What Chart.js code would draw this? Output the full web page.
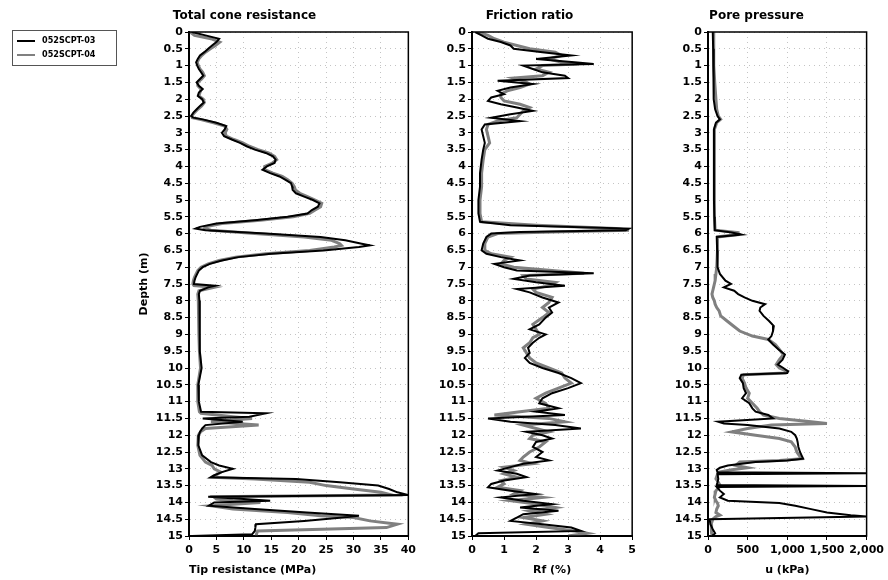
<!DOCTYPE html>
<html>
<head>
<meta charset="utf-8">
<script src="https://cdn.jsdelivr.net/npm/chart.js@4"></script>
<style>
  body { margin: 0; background: #fff; width: 888px; height: 580px; position: relative; overflow: hidden; }
  canvas { position: absolute; top: 0; }
  #legend { position: absolute; left: 12px; top: 30px; width: 103px; height: 34px; border: 1px solid #555;
            font: bold 9px "DejaVu Sans Condensed", "DejaVu Sans", sans-serif; color: #000; z-index: 2; }
  #legend div { position: absolute; left: 4px; height: 12px; line-height: 12px; }
  #legend span { display: inline-block; width: 18px; height: 0; vertical-align: middle; margin-right: 7px; }
</style>
</head>
<body>
<div id="legend"></div>
<canvas id="coneChart" width="340" height="580" style="left:80px"></canvas>
<canvas id="frictionChart" width="214" height="580" style="left:426px"></canvas>
<canvas id="poreChart" width="244" height="580" style="left:644px"></canvas>
<script>
// Series names
const seriesNames = ['052SCPT-03', '052SCPT-04'];
const seriesColors = ['#000000', '#808080'];

// Total cone resistance (MPa)
const qcDepth = [
  0, 0.1, 0.2, 0.3, 0.4, 0.5, 0.6, 0.7, 0.8, 0.9,
  1, 1.1, 1.2, 1.3, 1.4, 1.5, 1.6, 1.7, 1.8, 1.9,
  2, 2.1, 2.2, 2.3, 2.4, 2.5, 2.55, 2.6, 2.7, 2.8,
  2.9, 3, 3.1, 3.2, 3.3, 3.4, 3.5, 3.6, 3.7, 3.8,
  3.9, 4, 4.1, 4.2, 4.3, 4.4, 4.5, 4.6, 4.7, 4.8,
  4.9, 5, 5.1, 5.2, 5.3, 5.4, 5.5, 5.6, 5.7, 5.8,
  5.85, 5.9, 6, 6.1, 6.2, 6.3, 6.35, 6.4, 6.5, 6.6,
  6.7, 6.8, 6.9, 7, 7.1, 7.2, 7.3, 7.4, 7.5, 7.55,
  7.6, 7.7, 7.8, 8, 8.5, 9, 9.5, 10, 10.5, 11,
  11.3, 11.35, 11.45, 11.5, 11.6, 11.7, 11.8, 11.9, 12, 12.3,
  12.6, 12.8, 12.9, 13, 13.1, 13.2, 13.25, 13.3, 13.4, 13.5,
  13.6, 13.7, 13.78, 13.83, 13.9, 13.95, 14, 14.1, 14.2, 14.3,
  14.4, 14.45, 14.55, 14.65, 14.75, 14.85, 14.95, 15
];
const qc03 = [
  0.5, 3.0, 5.5, 5.0, 4.2, 3.5, 2.8, 2.0, 1.6, 1.3,
  1.5, 1.8, 2.2, 2.6, 2.0, 1.4, 1.8, 2.5, 1.8, 1.6,
  2.4, 2.7, 2.0, 1.4, 0.8, 0.4, 0.8, 2.5, 5.0, 6.8,
  6.5, 6.0, 6.4, 7.8, 9.3, 10.5, 12.0, 14.0, 15.3, 15.8,
  15.6, 14.2, 13.4, 14.8, 16.5, 17.6, 18.6, 18.8, 18.9, 19.5,
  21.0, 22.6, 23.8, 23.5, 22.4, 21.6, 18.0, 12.0, 5.0, 2.0,
  1.2, 3.0, 14.0, 24.0, 28.5, 31.5, 33.0, 31.0, 24.5, 15.0,
  9.0, 6.0, 3.8, 2.5, 1.8, 1.5, 1.2, 1.0, 0.9, 4.8,
  3.5, 2.0, 1.8, 1.9, 1.9, 2.0, 2.0, 2.3, 1.7, 1.8,
  2.2, 14.0, 11.0, 2.5, 9.8, 3.0, 2.4, 2.0, 1.8, 1.7,
  2.4, 4.0, 5.5, 8.0, 6.0, 4.5, 4.0, 19.5, 27.5, 34.5,
  36.5, 38.0, 40.0, 3.5, 10.0, 14.8, 4.6, 3.6, 12.0, 21.5,
  31.0, 28.0, 21.0, 12.2, 12.1, 12.0, 11.5, 0.5
];
const qc04 = [
  0.2, 1.0, 4.0, 5.6, 4.8, 3.9, 3.0, 2.3, 1.8, 1.5,
  1.7, 2.0, 2.5, 2.8, 2.3, 1.6, 1.6, 2.2, 2.0, 1.8,
  2.6, 2.8, 2.3, 1.6, 1.0, 0.5, 0.6, 2.0, 4.5, 6.5,
  6.9, 6.6, 6.8, 8.2, 9.8, 11.0, 12.6, 14.5, 15.6, 16.0,
  15.2, 13.8, 13.8, 15.3, 17.0, 18.0, 18.8, 19.2, 19.4, 20.2,
  21.6, 23.0, 24.2, 24.0, 23.0, 22.0, 19.0, 13.0, 6.0, 3.0,
  2.8, 4.0, 12.0, 21.0, 26.0, 27.5, 27.8, 26.5, 22.0, 14.0,
  8.5, 5.5, 3.5, 2.2, 1.6, 1.3, 1.0, 0.8, 0.7, 0.9,
  4.5, 1.8, 1.6, 1.7, 1.8, 1.8, 1.9, 2.1, 1.6, 1.6,
  1.9, 2.2, 8.0, 11.5, 4.0, 12.7, 3.0, 2.1, 1.7, 1.6,
  2.0, 3.0, 4.2, 4.6, 5.8, 4.8, 4.2, 12.0, 22.0, 25.0,
  30.0, 35.0, 37.0, 4.5, 5.0, 8.0, 13.0, 4.0, 8.0, 18.0,
  24.0, 30.0, 33.0, 38.0, 36.0, 12.5, 12.3, 12.3
];

// Friction ratio (%)
const rfDepth = [
  0, 0.1, 0.2, 0.3, 0.4, 0.5, 0.6, 0.7, 0.8, 0.9,
  0.95, 1, 1.1, 1.2, 1.3, 1.37, 1.45, 1.55, 1.65, 1.75,
  1.85, 1.95, 2.05, 2.15, 2.25, 2.35, 2.45, 2.55, 2.65, 2.75,
  2.9, 3.1, 3.3, 3.5, 3.8, 4.2, 4.6, 5, 5.4, 5.65,
  5.75, 5.85, 5.9, 5.95, 6, 6.1, 6.3, 6.5, 6.6, 6.7,
  6.8, 6.9, 7, 7.1, 7.18, 7.25, 7.35, 7.45, 7.55, 7.65,
  7.75, 7.9, 8.05, 8.2, 8.35, 8.5, 8.7, 8.85, 9, 9.1,
  9.25, 9.4, 9.55, 9.7, 9.85, 10, 10.15, 10.3, 10.45, 10.6,
  10.75, 10.9, 11.05, 11.2, 11.3, 11.4, 11.5, 11.6, 11.7, 11.8,
  11.9, 12, 12.1, 12.2, 12.35, 12.5, 12.65, 12.75, 12.85, 12.95,
  13.05, 13.15, 13.25, 13.35, 13.45, 13.55, 13.65, 13.75, 13.85, 13.95,
  14.05, 14.15, 14.25, 14.35, 14.45, 14.55, 14.65, 14.75, 14.85, 14.92, 15
];
const rf03 = [
  0.1, 0.3, 0.5, 0.9, 1.2, 1.3, 2.2, 3.1, 2.0, 3.2,
  3.8, 1.6, 1.9, 2.2, 2.9, 3.0, 0.8, 1.9, 1.2, 0.8,
  1.0, 0.6, 0.5, 0.9, 1.4, 1.9, 1.2, 0.6, 1.5, 0.4,
  0.3, 0.35, 0.4, 0.35, 0.3, 0.25, 0.25, 0.2, 0.2, 0.25,
  1.2, 4.9, 4.8, 1.5, 0.6, 0.45, 0.35, 0.3, 0.45, 0.9,
  1.5, 0.7, 1.0, 1.4, 3.8, 1.8, 1.3, 2.0, 2.9, 1.4,
  1.8, 2.2, 2.7, 2.4, 2.5, 2.3, 2.1, 1.8, 2.3, 2.1,
  1.9, 1.75, 1.8, 1.65, 1.8, 2.2, 2.7, 3.1, 3.4, 3.0,
  2.5, 2.2, 2.1, 2.7, 2.0, 2.9, 0.5, 1.2, 2.6, 3.4,
  1.7, 2.2, 2.5, 2.0, 1.9, 2.2, 2.0, 2.4, 1.6, 1.2,
  0.8, 1.4, 1.7, 1.0, 0.6, 0.5, 1.2, 2.0, 0.9, 1.6,
  2.5, 1.5, 2.7, 1.6, 1.4, 1.2, 2.2, 3.1, 3.4, 0.2, 0.1
];
const rf04 = [
  0.2, 0.5, 0.7, 1.0, 1.4, 1.8, 2.6, 2.8, 2.4, 2.8,
  3.3, 2.2, 2.0, 2.4, 2.2, 1.3, 1.6, 1.8, 1.5, 1.1,
  0.9, 0.9, 1.0, 1.5, 1.8, 1.6, 1.5, 1.4, 0.8, 0.5,
  0.45, 0.5, 0.55, 0.4, 0.35, 0.3, 0.3, 0.25, 0.25, 0.3,
  2.0, 4.5, 4.9, 2.5, 0.8, 0.5, 0.4, 0.4, 0.6, 1.2,
  1.0, 0.9, 1.3, 2.5, 3.5, 1.6, 1.7, 2.6, 2.4, 1.9,
  2.0, 2.5, 2.4, 2.2, 2.4, 2.2, 1.9, 2.0, 2.1, 1.9,
  1.8, 1.6, 1.7, 1.8, 2.0, 2.4, 2.8, 2.9, 3.1, 2.7,
  2.3, 2.0, 2.3, 2.4, 1.5, 0.7, 2.4, 2.9, 1.6, 2.0,
  2.4, 1.9, 1.8, 2.3, 2.1, 1.8, 1.6, 1.5, 1.9, 1.0,
  1.3, 1.0, 1.4, 0.9, 1.0, 0.8, 1.5, 1.3, 2.2, 1.2,
  2.0, 2.6, 1.8, 2.3, 1.6, 2.2, 1.7, 2.4, 3.2, 3.6, 3.0
];

// Pore pressure (kPa)
const uDepth = [
  0, 0.5, 1, 1.5, 2, 2.3, 2.5, 2.6, 2.7, 2.9,
  3.5, 4, 4.5, 5, 5.5, 5.9, 5.97, 6.03, 6.1, 6.5,
  7, 7.2, 7.4, 7.5, 7.6, 7.7, 7.8, 7.9, 8, 8.1,
  8.2, 8.3, 8.45, 8.6, 8.75, 8.9, 9.05, 9.15, 9.3, 9.45,
  9.6, 9.75, 9.9, 10, 10.1, 10.15, 10.2, 10.3, 10.45, 10.6,
  10.75, 10.9, 11.05, 11.2, 11.3, 11.4, 11.5, 11.6, 11.65, 11.7,
  11.8, 11.9, 12, 12.1, 12.2, 12.35, 12.5, 12.6, 12.7, 12.75,
  12.8, 12.9, 12.97, 13.03, 13.1, 13.13, 13.16, 13.3, 13.4, 13.48,
  13.51, 13.54, 13.65, 13.75, 13.85, 13.95, 14.02, 14.1, 14.2, 14.3,
  14.38, 14.42, 14.5, 14.65, 14.8, 14.92, 15
];
const u03 = [
  60, 65, 70, 70, 75, 90, 120, 150, 100, 75,
  75, 75, 75, 75, 80, 85, 300, 420, 110, 115,
  120, 150, 220, 290, 200, 330, 380, 460, 560, 720,
  660, 650, 700, 770, 830, 820, 800, 760, 820, 890,
  970, 940, 880, 950, 1010, 1000, 420, 400, 440, 450,
  480, 430, 520, 560, 600, 760, 820, 130, 200, 500,
  900, 1050, 1100, 1120, 1130, 1140, 1160, 1180, 1200, 1000,
  600, 250, 150, 110, 120, 2000, 120, 130, 120, 110,
  2000, 110, 150, 200, 150, 250, 900, 1100, 1300, 1500,
  1800, 2000, 20, 30, 60, 90, 50
];
const u04 = [
  70, 70, 75, 85, 100, 110, 130, 160, 110, 80,
  80, 80, 80, 80, 85, 90, 380, 380, 120, 120,
  110, 100, 90, 80, 70, 60, 50, 60, 80, 90,
  110, 140, 160, 240, 320, 400, 560, 760, 850, 900,
  950, 900, 860, 900, 1000, 980, 450, 430, 460, 480,
  520, 500, 560, 620, 650, 700, 900, 1300, 1500, 800,
  500, 300, 600, 900, 1050, 1100, 1120, 1150, 1180, 900,
  400, 350, 500, 300, 130, 130, 120, 100, 130, 150,
  150, 140, 100, 90, 80, 100, 120, 130, 110, 100,
  150, 100, 60, 40, 40, 50, 60
];

Chart.defaults.font.family = '"DejaVu Sans", sans-serif';
Chart.defaults.color = '#000';

// Box around each plot area
const framePlugin = {
  id: 'frame',
  afterDraw(chart) {
    const { ctx, chartArea: a } = chart;
    ctx.save();
    ctx.strokeStyle = '#000';
    ctx.lineWidth = 1.5;
    ctx.strokeRect(a.left, a.top, a.right - a.left, a.bottom - a.top);
    ctx.restore();
  }
};

function toPoints(depth, values) {
  return depth.map((d, i) => ({ x: values[i], y: d }));
}

function makeProfile(id, cfg) {
  const datasets = cfg.series.map((values, i) => ({
    label: seriesNames[i],
    data: toPoints(cfg.depth, values),
    showLine: true,
    borderColor: seriesColors[i],
    borderWidth: i === 0 ? 2 : 3,
    pointRadius: 0,
    tension: 0,
    order: i
  }));
  return new Chart(document.getElementById(id), {
    type: 'scatter',
    data: { datasets },
    plugins: [framePlugin],
    options: {
      responsive: false,
      animation: false,
      layout: { autoPadding: false, padding: { left: 0, right: cfg.padRight, top: 0, bottom: 0 } },
      plugins: {
        legend: { display: false },
        tooltip: { enabled: false },
        title: {
          display: true,
          text: cfg.title,
          font: { size: 12, weight: 'bold' },
          padding: { top: 9, bottom: 8.6 }
        }
      },
      scales: {
        x: {
          type: 'linear',
          min: cfg.xMin,
          max: cfg.xMax,
          afterFit: (scale) => { scale.height = 44; },
          ticks: {
            stepSize: cfg.xStep,
            autoSkip: false,
            maxRotation: 0,
            padding: 4,
            font: { size: 11, weight: 'bold' },
            callback: (v) => v.toLocaleString('en-US')
          },
          grid: { color: '#c4c4c4', tickColor: '#000', tickLength: 4 },
          border: { color: '#000', width: 2, dash: [1, 4] },
          title: {
            display: true,
            text: cfg.xTitle,
            align: cfg.xTitleAlign,
            font: { size: 11, weight: 'bold' },
            padding: { top: 0, bottom: 3.4 }
          }
        },
        y: {
          type: 'linear',
          min: 0,
          max: 15,
          reverse: true,
          afterFit: (scale) => { scale.width = cfg.yWidth; },
          ticks: {
            stepSize: 0.5,
            autoSkip: false,
            padding: 2,
            font: { size: 11, weight: 'bold' },
            callback: (v) => String(v)
          },
          grid: { color: '#c4c4c4', tickColor: '#000', tickLength: 4 },
          border: { color: '#000', width: 2, dash: [1, 4] },
          title: {
            display: cfg.yTitle !== '',
            text: cfg.yTitle,
            font: { size: 11, weight: 'bold' },
            padding: { top: 58, bottom: 0 }
          }
        }
      }
    }
  });
}

makeProfile('coneChart', {
  title: 'Total cone resistance', xTitle: 'Tip resistance (MPa)', xTitleAlign: 'start', yTitle: 'Depth (m)',
  depth: qcDepth, series: [qc03, qc04],
  xMin: 0, xMax: 40, xStep: 5, yWidth: 109, padRight: 11
});

makeProfile('frictionChart', {
  title: 'Friction ratio', xTitle: 'Rf (%)', xTitleAlign: 'center', yTitle: '',
  depth: rfDepth, series: [rf03, rf04],
  xMin: 0, xMax: 5, xStep: 1, yWidth: 46, padRight: 7
});

makeProfile('poreChart', {
  title: 'Pore pressure', xTitle: 'u (kPa)', xTitleAlign: 'center', yTitle: '',
  depth: uDepth, series: [u03, u04],
  xMin: 0, xMax: 2000, xStep: 500, yWidth: 64, padRight: 19
});

// Legend box at the top left
const legend = document.getElementById('legend');
seriesNames.forEach((name, i) => {
  const row = document.createElement('div');
  row.style.top = (3 + i * 14) + 'px';
  row.innerHTML = '<span style="border-top:2px solid ' + seriesColors[i] + '"></span>' + name;
  legend.appendChild(row);
});
</script>
</body>
</html>
